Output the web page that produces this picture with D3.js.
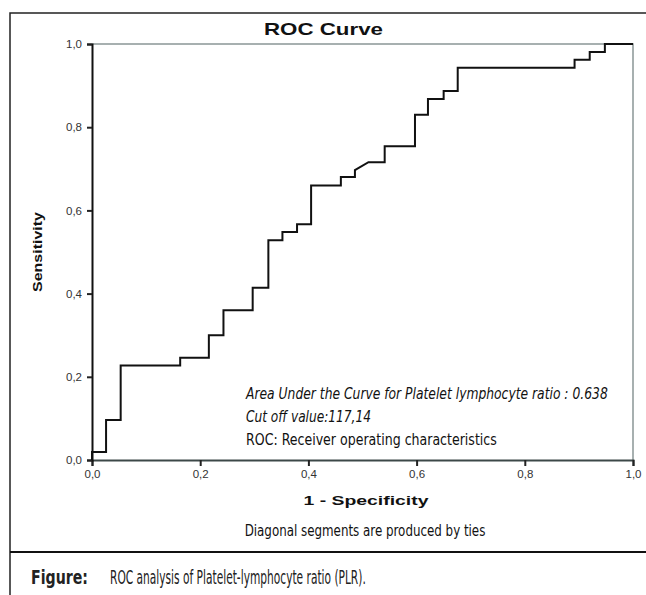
<!DOCTYPE html>
<html>
<head>
<meta charset="utf-8">
<script src="https://cdn.jsdelivr.net/npm/d3@7"></script>
<style>
  html, body { margin: 0; padding: 0; background: #fff; }
  svg { display: block; }
</style>
</head>
<body>
<svg id="chart" width="646" height="595"></svg>
<script>
// ROC curve vertices (1 - specificity, sensitivity)
const fpr = [0, 0, 0.026, 0.026, 0.053, 0.053, 0.163, 0.163, 0.216, 0.216,
  0.243, 0.243, 0.297, 0.297, 0.326, 0.326, 0.352, 0.352, 0.379, 0.379,
  0.405, 0.405, 0.460, 0.460, 0.486, 0.486, 0.511, 0.541, 0.541, 0.597,
  0.597, 0.621, 0.621, 0.650, 0.650, 0.676, 0.676, 0.892, 0.892, 0.920,
  0.920, 0.948, 0.948, 1.0];
const tpr = [0, 0.019, 0.019, 0.096, 0.096, 0.227, 0.227, 0.246, 0.246, 0.300,
  0.300, 0.360, 0.360, 0.414, 0.414, 0.528, 0.528, 0.548, 0.548, 0.567,
  0.567, 0.660, 0.660, 0.680, 0.680, 0.697, 0.716, 0.716, 0.754, 0.754,
  0.830, 0.830, 0.868, 0.868, 0.887, 0.887, 0.943, 0.943, 0.962, 0.962,
  0.981, 0.981, 1.0, 1.0];

const tickValues = [0, 0.2, 0.4, 0.6, 0.8, 1.0];

const chartTitle = 'ROC Curve';
const xLabel = '1 - Specificity';
const yLabel = 'Sensitivity';
const notes = [
  { text: 'Area Under the Curve for Platelet lymphocyte ratio : 0.638', italic: true, len: 362 },
  { text: 'Cut off value:117,14', italic: true, len: 125 },
  { text: 'ROC: Receiver operating characteristics', italic: false, len: 251 }
];
const footnote = 'Diagonal segments are produced by ties';
const captionLabel = 'Figure:';
const captionText = 'ROC analysis of Platelet-lymphocyte ratio (PLR).';

const svg = d3.select('#chart');
const narrow = '"Liberation Sans Narrow", "DejaVu Sans Condensed", "Roboto", sans-serif';
const arial = '"Liberation Sans", Arial, sans-serif';

// squeeze/stretch a text horizontally so it takes the given width
function fitText(sel, px, py, len, anchor, rotate) {
  const w = sel.node().getComputedTextLength() || len;
  const k = len / w;
  sel.attr('text-anchor', anchor)
    .attr('transform', `translate(${px},${py})${rotate ? ` rotate(${rotate})` : ''} scale(${k},1)`);
  return sel;
}

// outer frame (only top and left visible in the picture)
svg.append('path')
  .attr('d', 'M10,595 L10,13 L646,13')
  .attr('fill', 'none')
  .attr('stroke', '#222')
  .attr('stroke-width', 1.5);

// separator above the caption
svg.append('line')
  .attr('x1', 10).attr('x2', 646)
  .attr('y1', 552).attr('y2', 552)
  .attr('stroke', '#111')
  .attr('stroke-width', 2);

const plot = { left: 92, right: 633, top: 44, bottom: 460 };

const x = d3.scaleLinear().domain([0, 1]).range([plot.left, plot.right]);
const y = d3.scaleLinear().domain([0, 1]).range([plot.bottom, plot.top]);

const fmt = d => d3.format('.1f')(d).replace('.', ',');

// top and right frame lines of the plot
svg.append('path')
  .attr('d', `M${x(0)},${y(1)} L${x(1)},${y(1)} L${x(1)},${y(0)}`)
  .attr('fill', 'none')
  .attr('stroke', '#8a9696')
  .attr('stroke-width', 1.5);

// axes
const xAxis = svg.append('g')
  .attr('transform', `translate(0,${plot.bottom})`)
  .call(d3.axisBottom(x).tickValues(tickValues).tickFormat(fmt).tickSize(6).tickPadding(4));
xAxis.select('.domain').attr('stroke', '#3c4848').attr('stroke-width', 2);
xAxis.selectAll('.tick line').attr('stroke', '#222').attr('stroke-width', 2);

const yAxis = svg.append('g')
  .attr('transform', `translate(${plot.left},0)`)
  .call(d3.axisLeft(y).tickValues(tickValues).tickFormat(fmt).tickSize(5).tickPadding(5));
yAxis.select('.domain').attr('stroke', '#111').attr('stroke-width', 2);
yAxis.selectAll('.tick line').attr('stroke', '#222').attr('stroke-width', 2);

svg.selectAll('.tick text')
  .attr('font-family', arial)
  .attr('font-size', 11.5)
  .attr('fill', '#333');

// ROC curve
const points = fpr.map((v, i) => [v, tpr[i]]);
svg.append('path')
  .datum(points)
  .attr('fill', 'none')
  .attr('stroke', '#111')
  .attr('stroke-width', 2)
  .attr('stroke-linejoin', 'miter')
  .attr('d', d3.line().x(d => x(d[0])).y(d => y(d[1])));

// title
svg.append('text')
  .attr('font-family', arial)
  .attr('font-weight', 'bold')
  .attr('font-size', 16)
  .attr('fill', '#111')
  .text(chartTitle)
  .call(s => fitText(s, 323.5, 35, 119, 'middle'));

// axis titles
svg.append('text')
  .attr('font-family', arial)
  .attr('font-weight', 'bold')
  .attr('font-size', 13)
  .attr('fill', '#111')
  .text(xLabel)
  .call(s => fitText(s, 366, 505, 125, 'middle'));

svg.append('text')
  .attr('font-family', arial)
  .attr('font-weight', 'bold')
  .attr('font-size', 12)
  .attr('fill', '#111')
  .text(yLabel)
  .call(s => fitText(s, 42, 252, 80, 'middle', -90));

// annotation lines
svg.append('g')
  .selectAll('text')
  .data(notes)
  .join('text')
  .attr('font-family', narrow)
  .attr('font-size', 16)
  .attr('font-style', d => d.italic ? 'italic' : 'normal')
  .attr('fill', '#111')
  .text(d => d.text)
  .each(function(d, i) { fitText(d3.select(this), 246, 399 + i * 23, d.len, 'start'); });

svg.append('text')
  .attr('font-family', narrow)
  .attr('font-size', 16)
  .attr('fill', '#111')
  .text(footnote)
  .call(s => fitText(s, 365, 536, 241, 'middle'));

// caption
svg.append('text')
  .attr('font-family', narrow)
  .attr('font-weight', 'bold')
  .attr('font-size', 19)
  .attr('fill', '#222')
  .text(captionLabel)
  .call(s => fitText(s, 31, 584, 57, 'start'));

svg.append('text')
  .attr('font-family', narrow)
  .attr('font-size', 19)
  .attr('fill', '#222')
  .text(captionText)
  .call(s => fitText(s, 110, 584, 256, 'start'));
</script>
</body>
</html>
